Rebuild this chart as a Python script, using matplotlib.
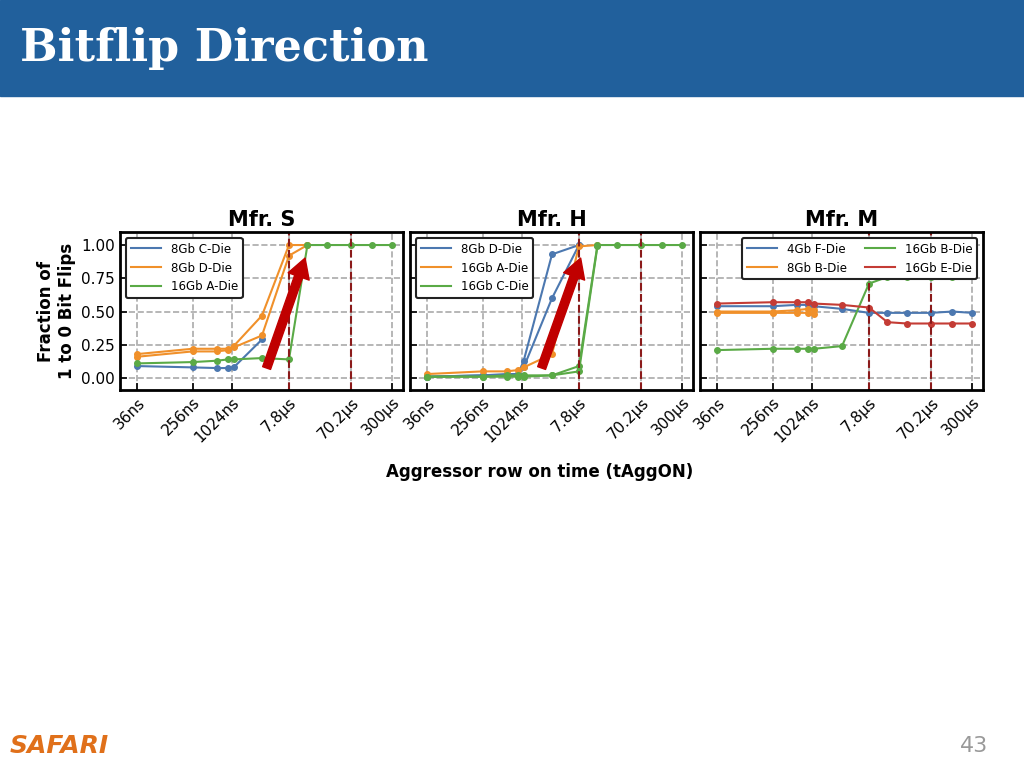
import matplotlib
matplotlib.use("Agg")
import matplotlib.pyplot as plt
from matplotlib.patches import Rectangle
from matplotlib.lines import Line2D

x_vals = [36, 256, 600, 900, 1100, 3000, 7800, 15000, 30000, 70200, 150000, 300000]
tick_vals = [36, 256, 1024, 7800, 70200, 300000]
tick_labels = ["36ns", "256ns", "1024ns", "7.8µs", "70.2µs", "300µs"]

# Mfr. S
s_c = [0.09, 0.08, 0.075, 0.075, 0.08, 0.29]
s_d1 = [0.18, 0.22, 0.22, 0.22, 0.24, 0.47, 1.0, 1.0]
s_d2 = [0.16, 0.20, 0.20, 0.21, 0.23, 0.32, 0.92, 1.0]
s_a = [0.11, 0.12, 0.13, 0.14, 0.14, 0.15, 0.14, 1.0, 1.0, 1.0, 1.0, 1.0]
# Mfr. H
h_d1 = [0.01, 0.02, 0.03, 0.03, 0.13, 0.93, 1.0]
h_d2 = [0.01, 0.02, 0.02, 0.03, 0.08, 0.60, 1.0]
h_a = [0.03, 0.05, 0.05, 0.06, 0.08, 0.18, 0.99, 1.0]
h_c1 = [0.01, 0.01, 0.02, 0.02, 0.02, 0.02, 0.09, 1.0, 1.0, 1.0, 1.0, 1.0]
h_c2 = [0.01, 0.01, 0.01, 0.01, 0.01, 0.02, 0.05, 0.99]
# Mfr. M
m_f = [0.54, 0.54, 0.55, 0.55, 0.54, 0.52, 0.49, 0.49, 0.49, 0.49, 0.50, 0.49]
m_b1 = [0.50, 0.50, 0.51, 0.52, 0.51]
m_b2 = [0.49, 0.49, 0.49, 0.49, 0.48]
m_gb = [0.21, 0.22, 0.22, 0.22, 0.22, 0.24, 0.71, 0.76, 0.76, 0.76, 0.76, 0.77]
m_e = [0.56, 0.57, 0.57, 0.57, 0.56, 0.55, 0.53, 0.42, 0.41, 0.41, 0.41, 0.41]

BLUE, ORANGE, GREEN, RED = "#4c78b0", "#f0902a", "#5aaa46", "#c43c35"

fig = plt.figure(figsize=(10.24, 7.68), dpi=100)
fig.patches.append(Rectangle((0, 1 - 96/768), 1, 96/768, transform=fig.transFigure,
                             color="#21609c", zorder=0))
fig.text(20/1024, 1 - 48/768, "Bitflip Direction", color="white", fontsize=32,
         fontweight="bold", family="DejaVu Serif", va="center")
fig.text(10/1024, 1 - 746/768, "SAFARI", color="#e0701a", fontsize=18,
         fontweight="bold", style="italic", va="center")
fig.text(988/1024, 1 - 746/768, "43", color="#999999", fontsize=16, ha="right", va="center")

panels = [
    ("Mfr. S", 120, [(s_c, BLUE, "8Gb C-Die"), (s_d1, ORANGE, "8Gb D-Die"), (s_d2, ORANGE, None),
                     (s_a, GREEN, "16Gb A-Die")], (0.518, 0.654), 1),
    ("Mfr. H", 410, [(h_d1, BLUE, "8Gb D-Die"), (h_d2, BLUE, None), (h_a, ORANGE, "16Gb A-Die"),
                     (h_c1, GREEN, "16Gb C-Die"), (h_c2, GREEN, None)], (0.465, 0.603), 1),
    ("Mfr. M", 700, [(m_f, BLUE, "4Gb F-Die"), (m_b1, ORANGE, "8Gb B-Die"), (m_b2, ORANGE, None),
                     (m_gb, GREEN, "16Gb B-Die"), (m_e, RED, "16Gb E-Die")], None, 2),
]

for i, (title, left, series, arrow, ncol) in enumerate(panels):
    ax = fig.add_axes([left/1024, 1 - 390/768, 283/1024, 158/768])
    ax.set_xscale("log")
    handles = []
    for y, c, lab in series:
        ax.plot(x_vals[:len(y)], y, color=c, marker="o", ms=4, lw=1.5)
        if lab:
            handles.append(Line2D([], [], color=c, lw=1.5, label=lab))
    for v in (7800, 70200):
        ax.axvline(v, color="#8b1a1a", ls="--", lw=1.5)
    ax.set_xlim(19.6, 443000)
    ax.set_ylim(-0.09, 1.098)
    ax.set_xticks(tick_vals)
    ax.set_xticklabels(tick_labels, rotation=45, fontsize=11, ha="right", rotation_mode="anchor")
    ax.minorticks_off()
    ax.set_yticks([0, 0.25, 0.5, 0.75, 1.0])
    if i == 0:
        ax.set_yticklabels(["0.00", "0.25", "0.50", "0.75", "1.00"], fontsize=11)
        ax.set_ylabel("Fraction of\n1 to 0 Bit Flips", fontsize=12, fontweight="bold")
    else:
        ax.set_yticklabels([])
    ax.tick_params(direction="in", length=5, width=1.2)
    ax.grid(True, ls="--", color="#aaaaaa", lw=1.2)
    for s in ax.spines.values():
        s.set_linewidth(2)
    ax.set_title(title, fontsize=15, fontweight="bold", pad=4)
    leg = ax.legend(handles=handles, loc="upper left" if ncol == 1 else "upper right", ncol=ncol,
                    fontsize=8.5, frameon=True, fancybox=True, handlelength=2.6, columnspacing=1.5,
                    framealpha=1)
    leg.get_frame().set_edgecolor("#222222")
    leg.get_frame().set_linewidth(1.5)
    if arrow:
        ax.annotate("", xy=(arrow[1], 0.835), xytext=(arrow[0], 0.139), xycoords="axes fraction",
                    arrowprops=dict(facecolor="#c00000", edgecolor="#c00000", width=6,
                                    headwidth=16, headlength=14))

fig.text(540/1024, 1 - 472/768, "Aggressor row on time (tAggON)", fontsize=12,
         fontweight="bold", ha="center", va="center")
fig.savefig("out.png", dpi=100)
